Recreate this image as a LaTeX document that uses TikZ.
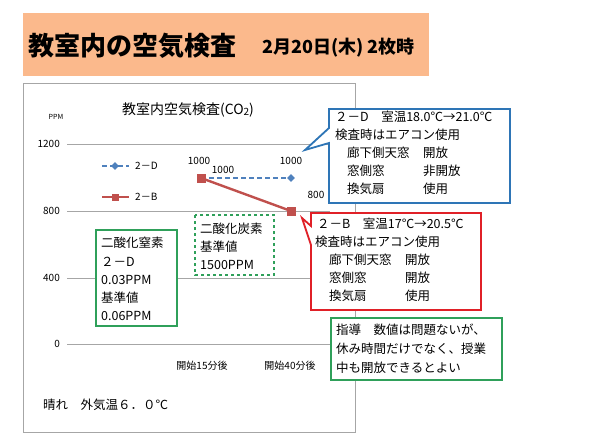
\documentclass[tikz,border=0pt]{standalone}
\usepackage{fontspec}
\setmainfont{Noto Sans CJK JP}
\usetikzlibrary{shapes.geometric}
\definecolor{ttl}{HTML}{FBB98C}
\definecolor{cb}{HTML}{2E75B6}
\definecolor{cr}{HTML}{E02027}
\definecolor{cg}{HTML}{2FA05A}
\definecolor{sb}{HTML}{4F81BD}
\definecolor{sr}{HTML}{C0504D}
\tikzset{
 tx/.style={inner sep=0pt,anchor=west,font=\fontsize{12.5}{14}\selectfont},
 sm/.style={inner sep=0pt,font=\fontsize{9}{10}\selectfont},
 grid/.style={draw=gray!70,line width=1pt},
 lbl/.style={inner sep=0pt,font=\fontsize{10}{11}\selectfont},
}
\begin{document}
\begin{tikzpicture}[x=1pt,y=-1pt]
\useasboundingbox[fill=white] (0,0) rectangle (613,445);
% title
\fill[ttl] (23,13) rectangle (429,76);
\node[inner sep=0pt,anchor=west,font=\bfseries\fontsize{26}{28}\selectfont] (t1) at (28,46) {教室内の空気検査};
\node[inner sep=0pt,anchor=west,font=\bfseries\fontsize{18}{20}\selectfont] (t2) at (262,48) {2月20日(木) 2枚時};
% frame
\draw[gray!70,line width=1pt] (23,83) rectangle (355,432);
% grid
\foreach \y/\v in {144/1200,211/800,278/400,344/0}{
 \draw[grid] (67,\y) -- (330,\y);
 \node[lbl,anchor=east] at (60,\y) {\v};
}
\node[sm,font=\rmfamily\fontsize{7}{7}\selectfont] (ppm) at (56,117) {PPM};
\node[inner sep=0pt,font=\fontsize{14}{15}\selectfont] (ct) at (188,110) {教室内空気検査(CO\raisebox{-1pt}{\fontsize{10}{10}\selectfont 2})};
% legend
\coordinate (lb1) at (102,166); \coordinate (lb2) at (129,166);
\draw[sb,line width=2.6pt,dash pattern=on 5pt off 3pt] (lb1) -- (lb2);
\node[diamond,fill=sb,inner sep=0pt,minimum size=8pt] (ld) at (115,166) {};
\node[lbl,anchor=west] (ldt) at (135,166) {2－D};
\coordinate (lr1) at (102,197); \coordinate (lr2) at (129,197);
\draw[sr,line width=2.4pt] (lr1) -- (lr2);
\node[rectangle,fill=sr,inner sep=0pt,minimum size=7pt] (lr) at (115,197) {};
\node[lbl,anchor=west] (lrt) at (135,197) {2－B};
% data
\coordinate (b1) at (201,178); \coordinate (b2) at (291,178);
\coordinate (r1) at (201,178); \coordinate (r2) at (291,211);
\draw[sb,line width=2.6pt,dash pattern=on 5pt off 3pt] (b1) -- (b2);
\node[diamond,fill=sb,inner sep=0pt,minimum size=8pt] (bd2) at (b2) {};
\draw[sr,line width=2.4pt] (r1) -- (r2);
\node[rectangle,fill=sr,inner sep=0pt,minimum size=9pt] (rs1) at (r1) {};
\node[rectangle,fill=sr,inner sep=0pt,minimum size=9pt] (rs2) at (r2) {};
\node[lbl] at (199,161) {1000};
\node[lbl] at (223,170) {1000};
\node[lbl] at (291,161) {1000};
\node[lbl] at (316,195) {800};
% x labels
\node[lbl] at (202,366) {開始15分後};
\node[lbl] at (290,366) {開始40分後};
\node[tx] (wx) at (43,405) {晴れ　外気温６．０℃};
% blue callout
\draw[cb,line width=1.8pt,fill=white] (329,109) -- (510,109) -- (510,203) -- (329,203) -- (329,143) -- (305,150) -- (329,128) -- cycle;
\node[tx] (bc1) at (335,117) {２－D　室温18.0℃→21.0℃};
\node[tx] (bc2) at (335,135) {検査時はエアコン使用};
\node[tx] (bc3) at (347,153) {廊下側天窓};
\node[tx] (bc4) at (347,171) {窓側窓};
\node[tx] (bc5) at (347,189) {換気扇};
\node[tx] at (423,153) {開放};
\node[tx] at (423,171) {非開放};
\node[tx] at (423,189) {使用};
% red callout
\draw[cr,line width=1.8pt,fill=white] (311,213) -- (481,213) -- (481,310) -- (311,310) -- (311,245) -- (302,218) -- (311,226) -- cycle;
\node[tx] (rc1) at (317,224) {２－B　室温17℃→20.5℃};
\node[tx] (rc2) at (315,242) {検査時はエアコン使用};
\node[tx] (rc3) at (329,260) {廊下側天窓};
\node[tx] (rc4) at (329,278) {窓側窓};
\node[tx] (rc5) at (329,296) {換気扇};
\node[tx] at (405,260) {開放};
\node[tx] at (405,278) {開放};
\node[tx] at (405,296) {使用};
% CO2 box
\draw[cg,line width=1.4pt,dashed,fill=white] (195,215) rectangle (274,275);
\node[tx] (c1) at (200,229) {二酸化炭素};
\node[tx] (c2) at (200,247) {基準値};
\node[tx] (c3) at (200,265) {1500PPM};
% NO2 box
\draw[cg,line width=1.6pt,fill=white] (96,230) rectangle (177,326);
\node[tx] (n1) at (101,243) {二酸化窒素};
\node[tx] (n2) at (101,262) {２－D};
\node[tx] (n3) at (101,280) {0.03PPM};
\node[tx] (n4) at (101,298) {基準値};
\node[tx] (n5) at (101,316) {0.06PPM};
% advice
\draw[cg,line width=1.6pt,fill=white] (331,318) rectangle (502,380);
\node[tx] (a1) at (336,330) {指導　数値は問題ないが、};
\node[tx] (a2) at (336,349) {休み時間だけでなく、授業};
\node[tx] (a3) at (336,368) {中も開放できるとよい};
\end{tikzpicture}
\end{document}
